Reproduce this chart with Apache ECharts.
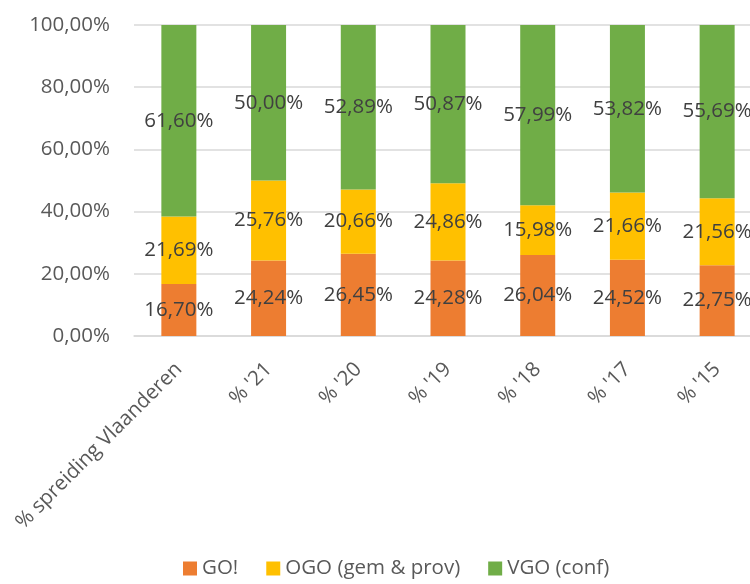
<!DOCTYPE html>
<html>
<head>
<meta charset="utf-8">
<script src="https://cdn.jsdelivr.net/npm/echarts@6/dist/echarts.min.js"></script>
<style>
html, body { margin: 0; padding: 0; background: #fff; }
#chart { width: 750px; height: 584px; }
</style>
</head>
<body>
<div id="chart"></div>
<script>
// data
var categories = ["% spreiding Vlaanderen", "% '21", "% '20", "% '19", "% '18", "% '17", "% '15"];
var goValues = [16.70, 24.24, 26.45, 24.28, 26.04, 24.52, 22.75];
var ogoValues = [21.69, 25.76, 20.66, 24.86, 15.98, 21.66, 21.56];
var vgoValues = [61.60, 50.00, 52.89, 50.87, 57.99, 53.82, 55.69];
var seriesNames = ['GO!', 'OGO (gem & prov)', 'VGO (conf)'];

var font = 'Open Sans';
function pct(v) {
    return v.toFixed(2).replace('.', ',') + '%';
}

var chart = echarts.init(document.getElementById('chart'));

function makeSeries(name, data, color) {
    return {
        name: name,
        type: 'bar',
        stack: 'total',
        barWidth: 35,
        data: data,
        itemStyle: { color: color },
        label: {
            show: true,
            position: 'inside',
            color: '#404040',
            fontFamily: font,
            fontSize: 20.5,
            formatter: function (p) { return pct(p.value); }
        }
    };
}

var option = {
    animation: false,
    grid: {
        left: 134,
        right: -12,
        top: 25,
        bottom: 248,
        outerBoundsMode: 'none'
    },
    legend: {
        data: seriesNames,
        left: 178,
        bottom: 0,
        itemWidth: 14,
        itemHeight: 14,
        itemGap: 28,
        icon: 'rect',
        textStyle: { color: '#595959', fontFamily: font, fontSize: 20.5 }
    },
    xAxis: {
        type: 'category',
        data: categories,
        axisLine: { lineStyle: { color: '#d9d9d9', width: 1.5 } },
        axisTick: { show: false },
        axisLabel: {
            rotate: 45,
            interval: 0,
            margin: 30,
            color: '#595959',
            fontFamily: font,
            fontSize: 20.5
        }
    },
    yAxis: {
        type: 'value',
        min: 0,
        max: 100,
        interval: 20,
        axisLine: { show: false },
        axisTick: { show: false },
        splitLine: { lineStyle: { color: '#d9d9d9', width: 1.5 } },
        axisLabel: {
            margin: 24,
            color: '#595959',
            fontFamily: font,
            fontSize: 20.5,
            formatter: function (v) { return pct(v); }
        }
    },
    series: [
        makeSeries(seriesNames[0], goValues, '#ED7D31'),
        makeSeries(seriesNames[1], ogoValues, '#FFC000'),
        makeSeries(seriesNames[2], vgoValues, '#70AD47')
    ]
};

chart.setOption(option);
</script>
</body>
</html>
